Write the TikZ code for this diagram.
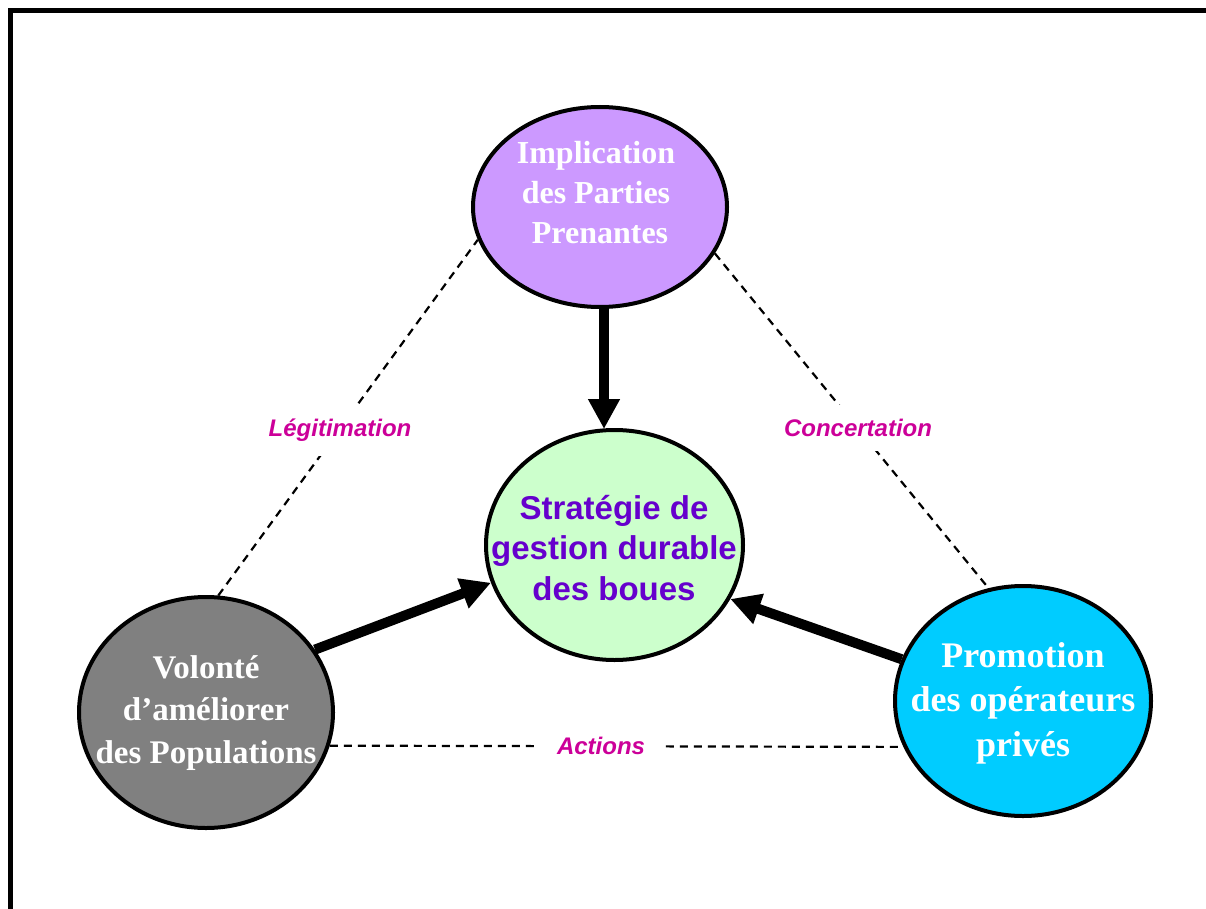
\documentclass[tikz,border=0pt]{standalone}
\usepackage{fontspec}
\setmainfont{Liberation Serif}
\newfontfamily\arialfont{Liberation Sans}
\usetikzlibrary{shapes.geometric,arrows.meta}
\definecolor{impcol}{HTML}{CC99FF}
\definecolor{stratcol}{HTML}{CCFFCC}
\definecolor{volcol}{HTML}{808080}
\definecolor{promcol}{HTML}{00CCFF}
\definecolor{strattext}{HTML}{6600CC}
\definecolor{labcol}{HTML}{CC0099}
\begin{document}
\begin{tikzpicture}[x=1pt,y=-1pt,
  bubble/.style={ellipse, draw=black, line width=4pt, inner sep=0pt},
  bigarrow/.style={line width=10pt, -{Triangle[length=30pt,width=30pt]}},
  link/.style={line width=2.2pt, dash pattern=on 8pt off 6pt},
  lbl/.style={font=\arialfont\bfseries\itshape\fontsize{24}{28}\selectfont, text=labcol, fill=white, inner xsep=3pt},
  serif/.style={font=\bfseries\fontsize{32}{40}\selectfont, text=white, align=center},
  sans/.style={font=\arialfont\bfseries\fontsize{33}{40.5}\selectfont, text=strattext, align=center}
]
\clip (0,0) rectangle (1206,909);
\fill[white] (0,0) rectangle (1206,909);
\draw[line width=4.5pt] (10.5,10.5) rectangle (1240,940);

% ellipses
\node[bubble, fill=impcol, minimum width=254pt, minimum height=200pt] (imp) at (600,207) {};
\node[bubble, fill=stratcol, minimum width=257pt, minimum height=230pt] (strat) at (614.5,545) {};
\node[bubble, fill=volcol, minimum width=254pt, minimum height=231pt] (vol) at (206,712.5) {};
\node[bubble, fill=promcol, minimum width=256pt, minimum height=230pt] (prom) at (1023,701) {};

% texts
\node[serif] (impT) at (596,193) {Implication\\des Parties\\\ Prenantes};
\node[sans] (stratT) at (614,548) {Stratégie de\\gestion durable\\des boues};
\node[serif, font=\bfseries\fontsize{33}{42.5}\selectfont] (volT) at (206,713) {Volonté\\d’améliorer\\des Populations};
\node[serif, font=\bfseries\fontsize{36}{44.5}\selectfont] (promT) at (1023,703) {Promotion\\des opérateurs\\privés};

% dashed links
\draw[link] (vol.84) -- (imp.195);
\draw[link] (imp.338) -- (prom.107);
\draw[link] (vol.345) -- (prom.201);

% labels
\node[lbl, inner ysep=15pt] (legit) at (340,430) {Légitimation};
\node[lbl, inner ysep=14pt] (concert) at (858,428) {Concertation};
\node[lbl, inner xsep=18pt, inner ysep=4pt] (actions) at (601,746) {Actions};

% arrows
\coordinate (ax) at (604,0);
\draw[bigarrow] (imp.south -| ax) -- ([yshift=-1pt]strat.north -| ax);
\draw[bigarrow] (vol.30) -- (strat.197);
\draw[bigarrow] (prom.161) -- (strat.335);
\end{tikzpicture}
\end{document}
